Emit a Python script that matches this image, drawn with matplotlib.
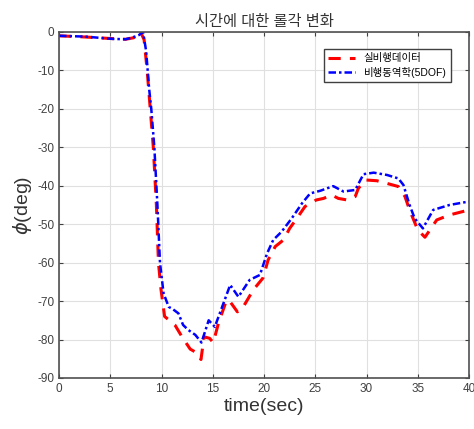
import numpy as np
import matplotlib.pyplot as plt

plt.rcParams['font.family'] = ['Liberation Sans', 'Noto Sans CJK KR', 'DejaVu Sans']
plt.rcParams['axes.unicode_minus'] = False

# measured roll angle (flight data)
t_flight = [0, 2.5, 5.0, 6.5, 7.3, 7.9, 8.3, 8.6, 8.9, 9.2, 9.5, 9.7, 9.95,
            10.3, 11.3, 12.0, 12.8, 13.4, 13.85, 14.15, 14.7, 15.05, 15.55,
            16.35, 16.7, 17.4, 17.8, 18.95, 19.9, 20.4, 21.1, 21.9, 22.5,
            23.2, 24.0, 25.1, 25.8, 26.6, 27.25, 28.1, 28.9, 29.2, 29.9,
            31.0, 32.0, 33.1, 33.75, 34.2, 35.0, 35.7, 36.85, 38.1, 40.0]
phi_flight = [-1.0, -1.3, -1.7, -1.9, -1.5, 0.3, -2, -10, -20, -30, -45, -60,
              -67, -74, -76.2, -79.3, -82.5, -83.4, -85.2, -79.3, -79.7, -80.8,
              -75.8, -69.7, -70.2, -72.8, -72.3, -67.1, -64.0, -59.3, -55.8,
              -54.1, -51.1, -48.5, -45.4, -43.7, -43.3, -42.4, -43.3, -43.7,
              -42.8, -40.7, -38.5, -38.7, -39.4, -40.2, -42.8, -46.3, -51.5,
              -53.4, -48.9, -47.6, -46.3]

# 5DOF flight dynamics simulation
t_sim = [0, 2.5, 5.2, 6.5, 7.2, 7.8, 8.2, 8.5, 8.8, 9.0, 9.3, 9.6, 9.85,
         10.2, 10.7, 11.15, 11.65, 12.1, 12.6, 13.3, 13.9, 14.6, 15.2,
         16.7, 17.5, 18.6, 19.6, 20.3, 20.9, 21.7, 22.7, 23.7, 24.5, 25.5,
         26.75, 27.75, 28.9, 29.7, 30.7, 32.0, 33.1, 33.6, 34.2, 34.7,
         35.5, 36.5, 38.1, 40.0]
phi_sim = [-1.0, -1.2, -1.8, -1.9, -1.4, -0.8, 0.0, -5, -15, -20, -30, -45,
           -60, -68, -71.5, -72.2, -73.2, -76.2, -77.5, -78.8, -80.8, -75.0,
           -76.7, -65.8, -68.9, -64.5, -63.2, -57.6, -54.1, -52.0, -48.5,
           -44.6, -42.0, -41.3, -40.1, -41.5, -41.1, -37.0, -36.6, -37.2,
           -38.1, -39.8, -45.0, -48.5, -51.1, -46.3, -45.0, -44.1]

fig = plt.figure(figsize=(4.74, 4.29), dpi=100)
ax = fig.add_axes([0.1245, 0.119, 0.865, 0.8065])

ax.plot(t_flight, phi_flight, color='red', linestyle=(0, (4, 3)),
        linewidth=2.2, label='실비행데이터')
ax.plot(t_sim, phi_sim, color='blue', linestyle=(0, (3, 1.2, 1, 1.2)),
        linewidth=1.8, label='비행동역학(5DOF)')

ax.set_xlim(0, 40)
ax.set_ylim(-90, 0)
ax.set_xticks(np.arange(0, 41, 5))
ax.set_yticks(np.arange(-90, 1, 10))
ax.grid(True, color='#e0e0e0', linewidth=0.8)
ax.set_axisbelow(True)
ax.tick_params(direction='in', top=True, right=True, length=3,
               colors='#404040', labelsize=8.5)
for s in ax.spines.values():
    s.set_color('#505050')
    s.set_linewidth(1.2)

ax.set_title('시간에 대한 롤각 변화', fontsize=11, color='#333333', pad=4)
ax.set_xlabel('time(sec)', fontsize=14, color='#333333', labelpad=2)
ax.set_ylabel(r'$\phi$(deg)', fontsize=14, color='#333333', labelpad=2)

leg = ax.legend(loc='upper right', bbox_to_anchor=(0.968, 0.965),
                fontsize=7.5, fancybox=False, framealpha=1,
                edgecolor='#404040', handlelength=2.6, borderpad=0.4,
                labelspacing=0.3)
leg.get_frame().set_linewidth(1.0)

fig.savefig('out.png', dpi=100)
